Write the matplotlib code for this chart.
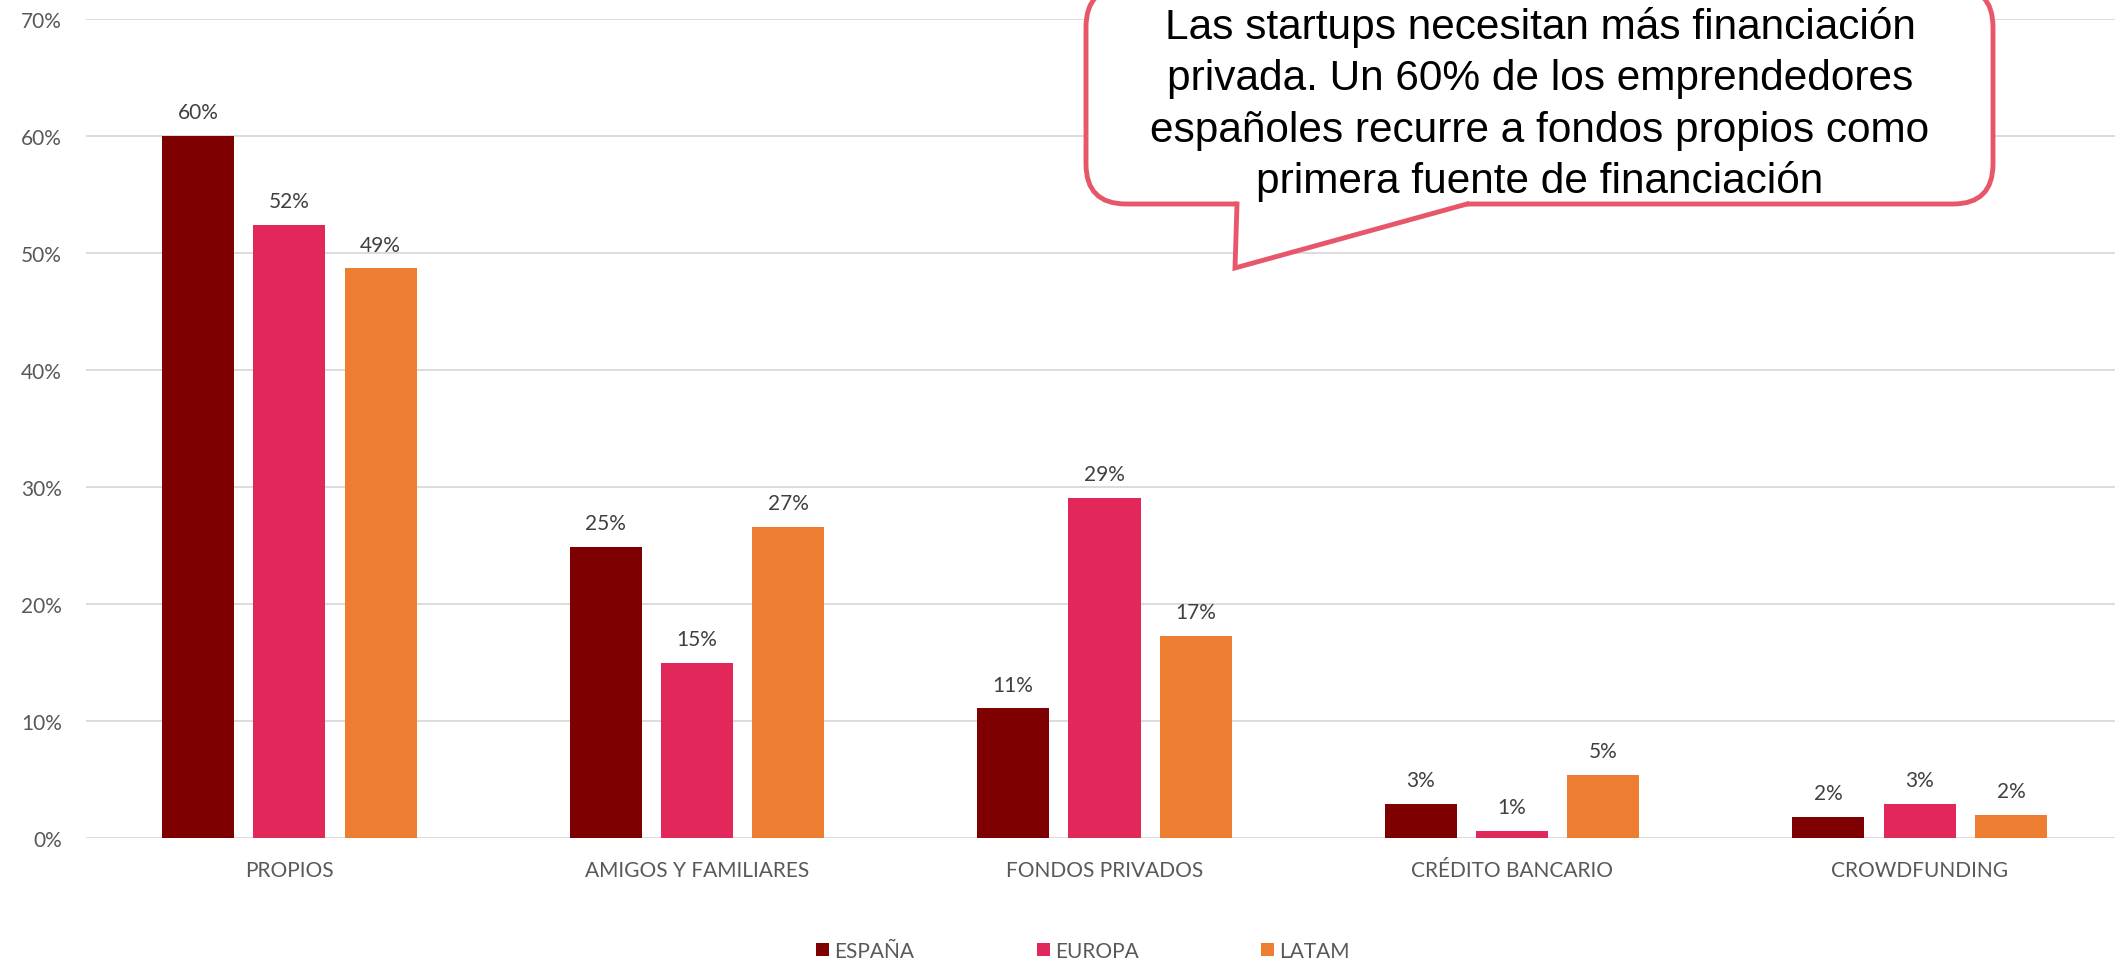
import numpy as np
import matplotlib
matplotlib.use("Agg")
import matplotlib.pyplot as plt
from matplotlib.patches import FancyBboxPatch, Polygon
from matplotlib.lines import Line2D

# ── Data ──────────────────────────────────────────────────────────────────────
categories = ["PROPIOS", "AMIGOS Y FAMILIARES", "FONDOS PRIVADOS",
              "CRÉDITO BANCARIO", "CROWDFUNDING"]
series_names = ["ESPAÑA", "EUROPA", "LATAM"]
espana = [60.0, 24.9, 11.1, 2.9, 1.8]
europa = [52.4, 15.0, 29.1, 0.6, 2.9]
latam = [48.7, 26.6, 17.3, 5.4, 2.0]
y_ticks = [0, 10, 20, 30, 40, 50, 60, 70]

callout_lines = ["Las startups necesitan más financiación",
                 "privada. Un 60% de los emprendedores",
                 "españoles recurre a fondos propios como",
                 "primera fuente de financiación"]

colors = ["#7F0000", "#E2275A", "#ED7D31"]
font = "Lato"

# ── Figure ────────────────────────────────────────────────────────────────────
W, H = 2115, 962
fig = plt.figure(figsize=(W / 100, H / 100), dpi=100)
fig.patch.set_facecolor("white")

# plot area runs slightly past the right edge, as in the original export
ax = fig.add_axes([85.5 / W, (H - 839) / H, 2038 / W, (839 - 20) / H])
x = np.arange(len(categories))
bar_w = 0.177
step = 0.224

handles = []
for i, (vals, name) in enumerate(zip([espana, europa, latam], series_names)):
    bars = ax.bar(x + (i - 1) * step, vals, width=bar_w, color=colors[i],
                  label=name, zorder=3)
    handles.append(bars)
    for xi, v in zip(x + (i - 1) * step, vals):
        ax.annotate(f"{v:.0f}%", (xi, v), xytext=(0, 17), textcoords="offset points",
                    ha="center", va="center", fontsize=15, color="#404040",
                    family=font)

ax.set_xlim(-0.5, len(categories) - 0.5)
ax.set_ylim(0, 70)
ax.set_yticks(y_ticks)
ax.set_yticklabels([f"{t}%" for t in y_ticks])
ax.set_xticks(x)
ax.set_xticklabels(categories)
ax.grid(axis="y", color="#D9D9D9", linewidth=1.3, zorder=0)
ax.set_axisbelow(True)
ax.tick_params(axis="y", length=0, pad=17, labelsize=15, labelcolor="#595959")
ax.tick_params(axis="x", length=0, pad=16, labelsize=15, labelcolor="#595959")
for lbl in ax.get_xticklabels() + ax.get_yticklabels():
    lbl.set_family(font)
for s in ax.spines.values():
    s.set_visible(False)

fig.legend(handles=handles, labels=series_names, loc="center",
           bbox_to_anchor=(1083 / W, 1 - 952 / H), ncol=3, frameon=False,
           handlelength=0.6, handleheight=0.6, handletextpad=0.25,
           columnspacing=5.9, prop={"family": font, "size": 15},
           labelcolor="#595959")

# ── Callout bubble (figure pixel coordinates) ─────────────────────────────────
ov = fig.add_axes([0, 0, 1, 1])
ov.set_xlim(0, W)
ov.set_ylim(H, 0)
ov.axis("off")

edge = "#E8566A"
box = FancyBboxPatch((1086, -12), 1993 - 1086, 205 + 12,
                     boxstyle="round,pad=0,rounding_size=40",
                     facecolor="white", edgecolor=edge, linewidth=3.5, zorder=5)
ov.add_patch(box)
ov.add_patch(Polygon([(1237, 198), (1237, 208), (1235, 269), (1467, 205), (1467, 198)],
                     closed=True, facecolor="white", edgecolor="none", zorder=6))
ov.add_line(Line2D([1237, 1235, 1467], [205, 269, 205], color=edge, linewidth=3.5,
                   solid_joinstyle="miter", zorder=7))

baselines = [39, 90.3, 141.7, 193]
for line, yb in zip(callout_lines, baselines):
    ov.text(1540, yb, line, ha="center", va="baseline", fontsize=30.5,
            family="Liberation Sans", color="black", zorder=8)

fig.savefig("out.png", dpi=100, facecolor="white")
